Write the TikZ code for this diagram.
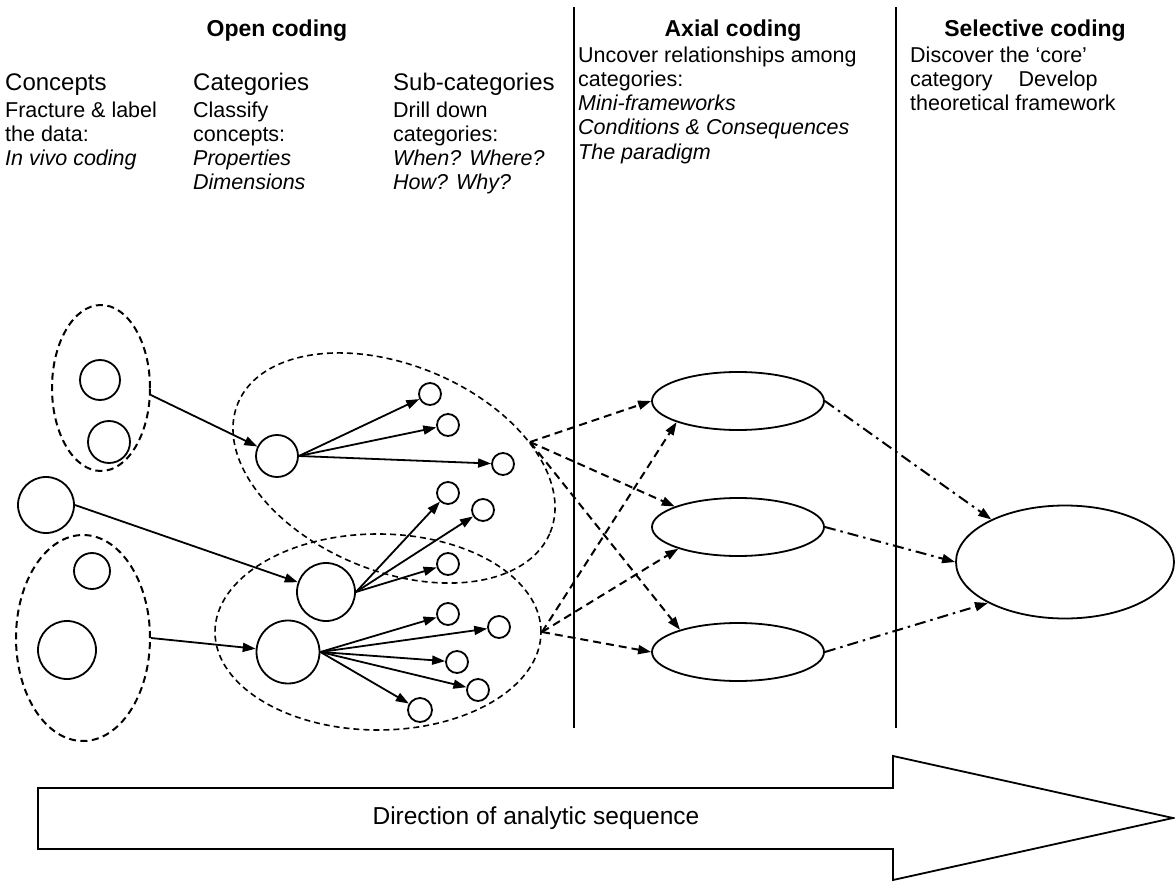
\documentclass[tikz,border=0pt]{standalone}
\usepackage{fontspec}
\setmainfont{Liberation Sans}
\usetikzlibrary{arrows.meta,shapes.geometric}
\newcommand\bodyfont{\fontsize{21.5}{24}\selectfont}
\newcommand\headfont{\fontsize{24}{27}\selectfont}
\newcommand\titlefont{\fontsize{23}{26}\selectfont\bfseries}
\newcommand\seqfont{\fontsize{24.5}{28}\selectfont}
\begin{document}
\begin{tikzpicture}[x=1pt,y=-1pt,
  txt/.style={anchor=base west,inner sep=0pt,font=\bodyfont},
  itxt/.style={txt,font=\bodyfont\itshape},
  head/.style={anchor=base west,inner sep=0pt,font=\headfont},
  title/.style={anchor=base,inner sep=0pt,font=\titlefont},
  circ/.style={circle,draw,line width=1.8pt,fill=white,inner sep=0pt,minimum size=#1},
  oval/.style={ellipse,draw,line width=1.8pt,fill=white,inner sep=0pt},
  grp/.style={ellipse,draw,line width=2pt,dash pattern=on 7pt off 4.5pt,inner sep=0pt},
  grpthin/.style={ellipse,draw,line width=1.6pt,dash pattern=on 6pt off 4pt,inner sep=0pt},
  arr/.style={line width=1.8pt,-{Triangle[length=13pt,width=9pt]}},
  darr/.style={line width=2pt,dash pattern=on 8pt off 5pt,-{Triangle[length=13pt,width=9pt]}},
  ddarr/.style={line width=2pt,dash pattern=on 11pt off 5pt on 2.5pt off 5pt,-{Triangle[length=13pt,width=9pt]}},
  divider/.style={line width=2.2pt}
]
\useasboundingbox (0,0) rectangle (1175,882);

% ---------------- texts ----------------
\node[title] (t1) at (277,37) {Open coding};
\node[title] (t2) at (733,37) {Axial coding};
\node[title] (t3) at (1035,37) {Selective coding};

\node[head] (c0) at (5,91) {Concepts};
\node[txt]  (c1) at (5,118) {Fracture \& label};
\node[txt]  (c2) at (5,142) {the data:};
\node[itxt] (c3) at (5,166) {In vivo coding};

\node[head] (k0) at (193,91) {Categories};
\node[txt]  (k1) at (193,118) {Classify};
\node[txt]  (k2) at (193,142) {concepts:};
\node[itxt] (k3) at (193,166) {Properties};
\node[itxt] (k4) at (193,190) {Dimensions};

\node[head] (s0) at (393,91) {Sub-categories};
\node[txt]  (s1) at (393,118) {Drill down};
\node[txt]  (s2) at (393,142) {categories:};
\node[itxt] (s3) at (393,166) {When? Where?};
\node[itxt] (s4) at (393,190) {How? Why?};

\node[txt]  (a1) at (578,63) {Uncover relationships among};
\node[txt]  (a2) at (578,87) {categories:};
\node[itxt] (a3) at (578,111) {Mini-frameworks};
\node[itxt] (a4) at (578,135) {Conditions \& Consequences};
\node[itxt] (a5) at (578,160) {The paradigm};

\node[txt] (e1) at (910,63) {Discover the ‘core’};
\node[txt] (e2) at (910,87) {category\hspace{26pt}Develop};
\node[txt] (e3) at (910,111) {theoretical framework};

% ---------------- dividers ----------------
\coordinate (l1t) at (574,7);
\coordinate (l1b) at (574,728);
\coordinate (l2t) at (896,7);
\coordinate (l2b) at (896,728);
\draw[divider] (l1t) -- (l1b);
\draw[divider] (l2t) -- (l2b);

% ---------------- concept groups ----------------
\node[grp, minimum width=98pt, minimum height=166pt] (g1) at (101,388) {};
\node[grp, minimum width=134pt, minimum height=206pt] (g2) at (83,638) {};
\node[circ=40pt] (ca) at (100,380) {};
\node[circ=42pt] (cb) at (109,442) {};
\node[circ=56pt] (cc) at (46,505) {};
\node[circ=36pt] (cd) at (92,571) {};
\node[circ=58pt] (ce) at (67,650) {};

% ---------------- category groups ----------------
\node[grpthin, minimum width=338pt, minimum height=206pt, rotate=-22.5] (og1) at (394,468) {};
\node[grpthin, minimum width=326pt, minimum height=196pt] (og2) at (378,632) {};

\node[circ=42pt] (F) at (277,456) {};
\node[circ=58pt] (H) at (326,592) {};
\node[circ=63pt] (I) at (288,652) {};

\node[circ=22pt] (f1) at (430,394) {};
\node[circ=22pt] (f2) at (448,425) {};
\node[circ=22pt] (f3) at (503,464) {};
\node[circ=22pt] (h1) at (448,493) {};
\node[circ=22pt] (h2) at (483,510) {};
\node[circ=22pt] (h3) at (448,564) {};
\node[circ=22pt] (i1) at (448,614) {};
\node[circ=22pt] (i2) at (499,627) {};
\node[circ=22pt] (i3) at (457,662) {};
\node[circ=22pt] (i4) at (478,690) {};
\node[circ=24pt] (i5) at (420,710) {};

\draw[arr] (g1.-8) -- (F);
\draw[arr] (cc.east) -- (H);
\draw[arr] (g2.east) -- (I);
\foreach \t in {f1,f2,f3} \draw[arr] (F.east) -- (\t);
\foreach \t in {h1,h2,h3} \draw[arr] (H.east) -- (\t);
\foreach \t in {i1,i2,i3,i4,i5} \draw[arr] (I.east) -- (\t);

% ---------------- axial ----------------
\node[oval, minimum width=172pt, minimum height=58pt] (A1) at (738,401) {};
\node[oval, minimum width=172pt, minimum height=58pt] (A2) at (738,527) {};
\node[oval, minimum width=172pt, minimum height=58pt] (A3) at (738,652) {};
\node[oval, minimum width=218pt, minimum height=113pt] (core) at (1065,562) {};

\coordinate (p1) at (530,442);
\coordinate (p2) at (542,632);
\draw[darr] (p1) -- (A1.west);
\draw[darr] (p1) -- (A2.162);
\draw[darr] (p1) -- (A3.159);
\draw[darr] (p2) -- (A1.199);
\draw[darr] (p2) -- (A2.200);
\draw[darr] (p2) -- (A3.west);

\draw[ddarr] (A1.east) -- (core.150);
\draw[ddarr] (A2.east) -- (core.west);
\draw[ddarr] (A3.east) -- (core.208);

% ---------------- direction arrow ----------------
\draw[line width=1.8pt, fill=white, line join=miter] (38,788) -- (893,788) -- (893,756) -- (1173,818) -- (893,880) -- (893,849) -- (38,849) -- cycle;
\node[inner sep=0pt, font=\seqfont] (seq) at (536,818) {Direction of analytic sequence};
\end{tikzpicture}
\end{document}
